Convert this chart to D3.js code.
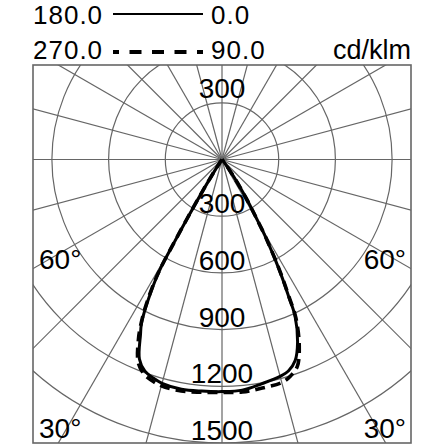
<!DOCTYPE html>
<html>
<head>
<meta charset="utf-8">
<script src="https://cdn.jsdelivr.net/npm/d3@7"></script>
<style>
  html, body { margin: 0; padding: 0; background: #fff; }
  svg { display: block; }
  text { font-family: "Liberation Sans", Arial, Helvetica, sans-serif; fill: #000; }
</style>
</head>
<body>
<svg id="chart" width="448" height="448"></svg>
<script>
// ---- data ----
const gammaAngles = [0, 5, 10, 15, 17.5, 20, 22.5, 25, 26, 27, 28, 29, 29.5, 30, 30.5, 31, 31.5, 32, 33, 34, 35, 36, 38, 40, 45, 60, 75, 90];
const c0   = [1228, 1225, 1205, 1188, 1172, 1132, 1045, 915, 800, 700, 600, 500, 455, 395, 350, 310, 275, 240, 180, 125, 80, 45, 10, 0, 0, 0, 0, 0];
const c180 = [1228, 1230, 1234, 1226, 1212, 1192, 1142, 1020, 975, 905, 815, 720, 655, 500, 370, 280, 205, 150, 70, 25, 5, 0, 0, 0, 0, 0, 0, 0];
const c90  = [1232, 1235, 1228, 1222, 1202, 1165, 1068, 925, 810, 708, 605, 502, 456, 396, 350, 310, 275, 240, 180, 125, 80, 45, 10, 0, 0, 0, 0, 0];
const c270 = [1232, 1236, 1244, 1240, 1228, 1208, 1160, 1045, 985, 915, 828, 730, 660, 505, 370, 280, 205, 150, 70, 25, 5, 0, 0, 0, 0, 0, 0, 0];
const ringValues = [300, 600, 900, 1200, 1500];
const radialStepDeg = 15;
const angleLabels = ["60°", "30°"];
const legendRows = [["180.0", "0.0"], ["270.0", "90.0"]];
const unitLabel = "cd/klm";

// ---- layout ----
const svg = d3.select("#chart");
const fx = 33, fy = 65, fs = 378;
const cx = fx + fs / 2, cy = fy + fs / 4;
const r = d3.scaleLinear().domain([0, 1500]).range([0, fs * 0.75]);
const gridColor = "#666";

svg.append("defs").append("clipPath").attr("id", "frameClip")
  .append("rect").attr("x", fx).attr("y", fy).attr("width", fs).attr("height", fs);

const grid = svg.append("g").attr("clip-path", "url(#frameClip)");

// rings
grid.selectAll("circle.ring").data(ringValues).join("circle")
  .attr("class", "ring")
  .attr("cx", cx).attr("cy", cy).attr("r", d => r(d))
  .attr("fill", "none").attr("stroke", gridColor).attr("stroke-width", 1.2);

// radial lines
const radials = d3.range(0, 360, radialStepDeg);
const longR = 1000;
grid.selectAll("line.rad").data(radials).join("line")
  .attr("class", "rad")
  .attr("x1", cx).attr("y1", cy)
  .attr("x2", d => cx + longR * Math.sin(d * Math.PI / 180))
  .attr("y2", d => cy + longR * Math.cos(d * Math.PI / 180))
  .attr("stroke", gridColor).attr("stroke-width", 1.2);

// frame
svg.append("rect").attr("x", fx).attr("y", fy).attr("width", fs).attr("height", fs)
  .attr("fill", "none").attr("stroke", gridColor).attr("stroke-width", 1.6);

// ring labels (below center)
svg.selectAll("text.ringLab").data(ringValues).join("text")
  .attr("class", "ringLab")
  .attr("x", cx).attr("y", d => cy + r(d) - 3)
  .attr("text-anchor", "middle").attr("font-size", 28)
  .text(d => d);
// ring label above center
svg.append("text").attr("x", cx).attr("y", cy - r(ringValues[0]) - 4.5)
  .attr("text-anchor", "middle").attr("font-size", 28).text(ringValues[0]);

// angle labels
const a60 = 60 * Math.PI / 180;
const y60 = cy + (fs / 2) / Math.tan(a60);
svg.append("text").attr("x", fx + 6).attr("y", y60).attr("font-size", 28).text(angleLabels[0]);
svg.append("text").attr("x", fx + fs - 5).attr("y", y60).attr("text-anchor", "end").attr("font-size", 28).text(angleLabels[0]);
svg.append("text").attr("x", fx + 6).attr("y", fy + fs - 5).attr("font-size", 28).text(angleLabels[1]);
svg.append("text").attr("x", fx + fs - 5).attr("y", fy + fs - 5).attr("text-anchor", "end").attr("font-size", 28).text(angleLabels[1]);

// curves
function planePoints(leftVals, rightVals) {
  const pts = [];
  for (let i = gammaAngles.length - 1; i >= 0; i--) {
    pts.push([Math.PI + gammaAngles[i] * Math.PI / 180, r(leftVals[i])]);
  }
  for (let i = 1; i < gammaAngles.length; i++) {
    pts.push([Math.PI - gammaAngles[i] * Math.PI / 180, r(rightVals[i])]);
  }
  return pts;
}
const radial = d3.lineRadial().angle(d => d[0]).radius(d => d[1]).curve(d3.curveCatmullRom.alpha(0.5));
const curves = svg.append("g").attr("transform", `translate(${cx},${cy})`);
curves.append("path").attr("d", radial(planePoints(c270, c90)))
  .attr("fill", "none").attr("stroke", "#000").attr("stroke-width", 3.6)
  .attr("stroke-dasharray", "10,6");
curves.append("path").attr("d", radial(planePoints(c180, c0)))
  .attr("fill", "none").attr("stroke", "#000").attr("stroke-width", 3)
  .attr("stroke-linejoin", "round");

// legend
const lg = svg.append("g");
const rowBase = [24, 59];
const lineY = [14, 52];
legendRows.forEach((row, i) => {
  lg.append("text").attr("x", 33).attr("y", rowBase[i]).attr("font-size", 26).attr("letter-spacing", 1).text(row[0]);
  lg.append("text").attr("x", 211).attr("y", rowBase[i]).attr("font-size", 26).attr("letter-spacing", 1).text(row[1]);
  const ln = lg.append("line").attr("x1", 113).attr("x2", 203).attr("y1", lineY[i]).attr("y2", lineY[i])
    .attr("stroke", "#000");
  if (i === 0) ln.attr("stroke-width", 2.2);
  else ln.attr("stroke-width", 4).attr("stroke-dasharray", "12,10.5").attr("stroke-dashoffset", 6);
});
lg.append("text").attr("x", fx + fs).attr("y", rowBase[1]).attr("text-anchor", "end").attr("font-size", 27).text(unitLabel);
</script>
</body>
</html>
